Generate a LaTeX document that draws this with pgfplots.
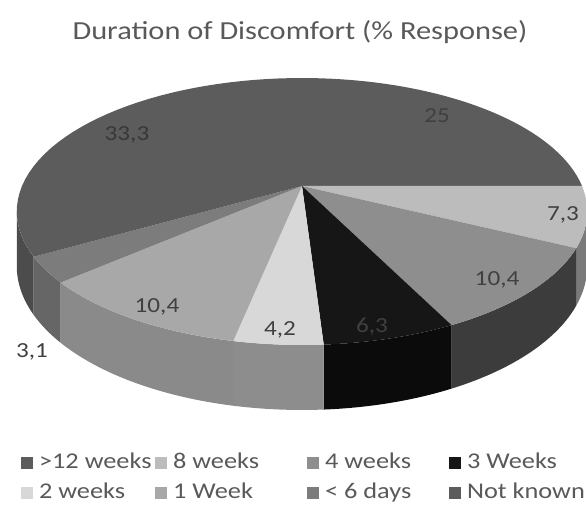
\documentclass[border=0pt]{standalone}
\usepackage{fontspec}
\setmainfont{Carlito}[FakeStretch=1.17]
\usepackage{pgfplots}
\usepackage{pgfplotstable}
\pgfplotsset{compat=1.18}

% face colours (top) and side colours
\definecolor{f0}{HTML}{5C5C5C}\definecolor{s0}{HTML}{4E4E4E}
\definecolor{f1}{HTML}{BCBCBC}\definecolor{s1}{HTML}{7A7A7A}
\definecolor{f2}{HTML}{8E8E8E}\definecolor{s2}{HTML}{3C3C3C}
\definecolor{f3}{HTML}{161616}\definecolor{s3}{HTML}{0B0B0B}
\definecolor{f4}{HTML}{D8D8D8}\definecolor{s4}{HTML}{8D8D8D}
\definecolor{f5}{HTML}{A8A8A8}\definecolor{s5}{HTML}{8A8A8A}
\definecolor{f6}{HTML}{7C7C7C}\definecolor{s6}{HTML}{666666}
\definecolor{f7}{HTML}{5C5C5C}\definecolor{s7}{HTML}{4C4C4C}
\definecolor{titlegray}{HTML}{595959}
\definecolor{labgray}{HTML}{404040}

\newcommand\titlefont{\fontsize{26bp}{30bp}\selectfont}
\newcommand\legfont{\fontsize{22.5bp}{27bp}\selectfont}
\newcommand\labfont{\fontsize{21.5bp}{25bp}\selectfont}

% Duration of Discomfort, % response
\pgfplotstableread{
idx value
0 25
1 7.3
2 10.4
3 6.3
4 4.2
5 10.4
6 3.1
7 33.3
}\piedata

% perspective projection of the pie disk (angle clockwise from top)
\pgfmathdeclarefunction{PX}{1}{\pgfmathparse{302+280*sin(#1)/(1+0.191*cos(#1))}}
\pgfmathdeclarefunction{PY}{1}{\pgfmathparse{186-128.6*cos(#1)/(1+0.191*cos(#1))}}
\pgfmathdeclarefunction{PB}{1}{\pgfmathparse{186+(52.6-128.6*cos(#1))/(1+0.191*cos(#1))}}

\newcommand\topwedge[3]{%
  \fill[fill=#3] (axis cs:302,186)
    \foreach \k [evaluate=\k as \px using {PX(#1+\k*(#2-#1)/40)},
                 evaluate=\k as \py using {PY(#1+\k*(#2-#1)/40)}] in {0,...,40}
      { -- (axis cs:\px,\py) } -- cycle;}
\newcommand\sidewedge[3]{%
  \pgfmathsetmacro\sx{PX(#1)}\pgfmathsetmacro\sy{PY(#1)}%
  \fill[fill=#3] (axis cs:\sx,\sy)
    \foreach \k [evaluate=\k as \px using {PX(#1+\k*(#2-#1)/40)},
                 evaluate=\k as \py using {PY(#1+\k*(#2-#1)/40)}] in {0,...,40}
      { -- (axis cs:\px,\py) }
    \foreach \k [evaluate=\k as \px using {PX(#2-\k*(#2-#1)/40)},
                 evaluate=\k as \py using {PB(#2-\k*(#2-#1)/40)}] in {0,...,40}
      { -- (axis cs:\px,\py) } -- cycle;}

\pgfplotsset{sqleg/.style={legend image code/.code={\fill[##1] (0bp,-6bp) rectangle (12bp,6bp);}}}

\begin{document}
\begin{tikzpicture}
% cumulative angles from the values
\gdef\cum{0}
\foreach \i in {0,...,7}{%
  \pgfplotstablegetelem{\i}{value}\of\piedata
  \pgfmathsetmacro\aa{\cum*3.6}%
  \pgfmathsetmacro\nc{\cum+\pgfplotsretval}%
  \pgfmathsetmacro\bb{\nc*3.6}%
  \expandafter\xdef\csname wa\i\endcsname{\aa}%
  \expandafter\xdef\csname wb\i\endcsname{\bb}%
  \xdef\cum{\nc}%
}
\begin{axis}[
  name=ax, hide axis, scale only axis,
  x=1bp, y=1bp, xmin=0, xmax=586, ymin=0, ymax=505, y dir=reverse,
  clip=false, anchor=south west, at={(0,0)},
  legend columns=4, legend cell align=left,
  legend style={at={(axis cs:21,453)}, anchor=north west, draw=none, fill=none,
    inner sep=0pt, outer sep=0pt, column sep=0pt, row sep=11bp,
    font=\legfont, text=titlegray,
    nodes={inner sep=0pt, outer sep=0pt, text height=15bp, text depth=4bp}},
]
\addlegendimage{sqleg, fill=f0, draw=none}
\addlegendentry{\hspace{6bp}\makebox[116bp][l]{>12 weeks}}
\addlegendimage{sqleg, fill=f1, draw=none}
\addlegendentry{\hspace{6bp}\makebox[134bp][l]{8 weeks}}
\addlegendimage{sqleg, fill=f2, draw=none}
\addlegendentry{\hspace{6bp}\makebox[124bp][l]{4 weeks}}
\addlegendimage{sqleg, fill=f3, draw=none}
\addlegendentry{\hspace{6bp}\makebox[118bp][l]{3 Weeks}}
\addlegendimage{sqleg, fill=f4, draw=none}
\addlegendentry{\hspace{6bp}\makebox[116bp][l]{2 weeks}}
\addlegendimage{sqleg, fill=f5, draw=none}
\addlegendentry{\hspace{6bp}\makebox[134bp][l]{1 Week}}
\addlegendimage{sqleg, fill=f6, draw=none}
\addlegendentry{\hspace{6bp}\makebox[124bp][l]{< 6 days}}
\addlegendimage{sqleg, fill=f7, draw=none}
\addlegendentry{\hspace{6bp}\makebox[118bp][l]{Not known}}

\pgfplotsextra{%
  % sides (visible front part only)
  \foreach \i in {0,...,7}{%
    \pgfmathsetmacro\sa{max(\csname wa\i\endcsname,101)}%
    \pgfmathsetmacro\sb{min(\csname wb\i\endcsname,259)}%
    \pgfmathtruncatemacro\ok{\sa<\sb}%
    \ifnum\ok=1 \sidewedge{\sa}{\sb}{s\i}\fi
  }%
  % top faces
  \foreach \i in {0,...,7}{%
    \topwedge{\csname wa\i\endcsname}{\csname wb\i\endcsname}{f\i}%
  }%
  \node[font=\titlefont, text=titlegray] at (axis cs:300,32) {Duration of Discomfort (\% Response)};
  \begin{scope}[every node/.style={font=\labfont, text=labgray}]
  \node at (axis cs:437,116) {25};
  \node at (axis cs:563,215) {7,3};
  \node at (axis cs:497,280) {10,4};
  \node[text=black!75] at (axis cs:372,327) {6,3};
  \node at (axis cs:280,330) {4,2};
  \node at (axis cs:157,307) {10,4};
  \node at (axis cs:32,352) {3,1};
  \node[text=black!78] at (axis cs:127,135) {33,3};
  \end{scope}
}
\end{axis}
\pgfresetboundingbox
\path[use as bounding box] (ax.south west) rectangle (ax.north east);
\end{tikzpicture}
\end{document}
